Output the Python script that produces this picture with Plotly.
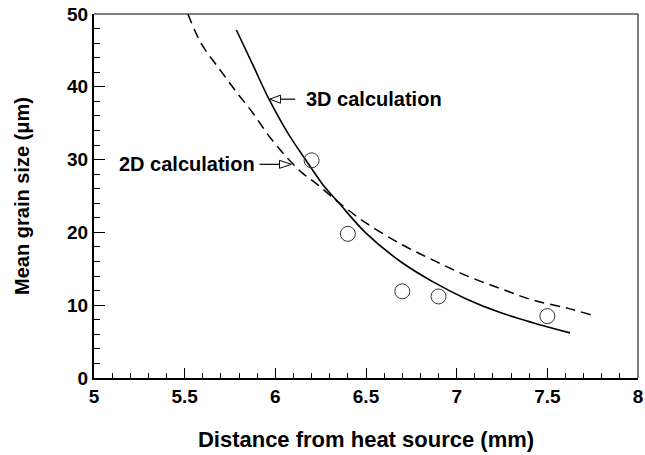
import plotly.graph_objects as go

# Data
exp_x = [6.2, 6.4, 6.7, 6.9, 7.5]
exp_y = [29.9, 19.8, 11.9, 11.2, 8.5]

calc3d_x = [5.785, 5.88, 5.965, 6.07, 6.18, 6.27, 6.345, 6.50, 6.69, 6.87, 7.05, 7.24, 7.42, 7.625]
calc3d_y = [47.8, 42.8, 38.3, 33.6, 29.5, 26.3, 24.2, 19.9, 16.0, 13.2, 10.9, 9.0, 7.6, 6.2]

calc2d_x = [5.518, 5.59, 5.69, 5.785, 5.876, 5.969, 6.06, 6.152, 6.226, 6.345, 6.50, 6.70, 6.87, 7.05, 7.24, 7.42, 7.61, 7.745]
calc2d_y = [50.0, 46.0, 42.5, 39.3, 36.4, 33.1, 30.4, 28.1, 26.7, 24.2, 21.3, 18.3, 16.2, 14.1, 12.3, 10.7, 9.6, 8.65]

x_ticks = [5, 5.5, 6, 6.5, 7, 7.5, 8]
x_ticklabels = ["5", "5.5", "6", "6.5", "7", "7.5", "8"]
y_ticks = [0, 10, 20, 30, 40, 50]

FONT = "Liberation Sans, Arial, sans-serif"

fig = go.Figure()
fig.add_trace(go.Scatter(x=calc2d_x, y=calc2d_y, mode="lines", line=dict(color="black", width=1.5, dash="10px,6px", shape="spline"), showlegend=False))
fig.add_trace(go.Scatter(x=calc3d_x, y=calc3d_y, mode="lines", line=dict(color="black", width=1.6, shape="spline", smoothing=1.0), showlegend=False))
fig.add_trace(go.Scatter(x=exp_x, y=exp_y, mode="markers",
                         marker=dict(symbol="circle-open", size=15, color="#333", line=dict(width=1, color="#333")),
                         showlegend=False))

# Annotation arrows (open triangle heads)
def arrow(x_tail, x_base, x_tip, y, h=0.55):
    fig.add_shape(type="line", x0=x_tail, x1=x_base, y0=y, y1=y, xref="x", yref="y", line=dict(color="black", width=1.2))
    fig.add_shape(type="path", xref="x", yref="y",
                  path=f"M {x_tip} {y} L {x_base} {y + h} L {x_base} {y - h} Z",
                  fillcolor="white", line=dict(color="black", width=1))

arrow(6.110, 6.029, 5.969, 38.3)
arrow(5.913, 6.023, 6.088, 29.35)

fig.add_annotation(x=6.158, y=38.3, xref="x", yref="y", text="<b>3D calculation</b>", showarrow=False,
                   xanchor="left", yanchor="middle", font=dict(family=FONT, size=20, color="black"))
fig.add_annotation(x=5.897, y=29.35, xref="x", yref="y", text="<b>2D calculation</b>", showarrow=False,
                   xanchor="right", yanchor="middle", font=dict(family=FONT, size=20, color="black"))

# Top and right frame lines
fig.add_shape(type="line", xref="paper", yref="paper", x0=0, x1=1, y0=1, y1=1, line=dict(color="black", width=1))
fig.add_shape(type="line", xref="paper", yref="paper", x0=1, x1=1, y0=0, y1=1, line=dict(color="black", width=1))

fig.update_layout(
    width=645, height=455,
    margin=dict(l=94, r=7, t=14, b=77),
    paper_bgcolor="white", plot_bgcolor="white",
    font=dict(family=FONT, color="black"),
)
fig.update_xaxes(
    range=[5, 8], tickvals=x_ticks, ticktext=[f"<b>{t}</b>" for t in x_ticklabels],
    ticks="inside", ticklen=10, tickwidth=1, tickcolor="black",
    minor=dict(dtick=0.1, ticks="inside", ticklen=5, tickwidth=1, tickcolor="black"),
    showline=True, linewidth=2, linecolor="black", showgrid=False, zeroline=False,
    tickfont=dict(family=FONT, size=19, color="black"), automargin=False,
    title=dict(text="<b>Distance from heat source (mm)</b>", font=dict(family=FONT, size=22, color="black"), standoff=26),
)
fig.update_yaxes(
    range=[0, 50], tickvals=y_ticks, ticktext=[f"<b>{t}</b>" for t in y_ticks],
    ticks="inside", ticklen=11, tickwidth=1, tickcolor="black",
    minor=dict(dtick=2, ticks="inside", ticklen=6, tickwidth=1, tickcolor="black"),
    showline=True, linewidth=2, linecolor="black", showgrid=False, zeroline=False,
    tickfont=dict(family=FONT, size=19, color="black"), automargin=False,
    title=dict(text="<b>Mean grain size (μm)</b>", font=dict(family=FONT, size=20, color="black"), standoff=32),
)

fig.write_html("out.html")
